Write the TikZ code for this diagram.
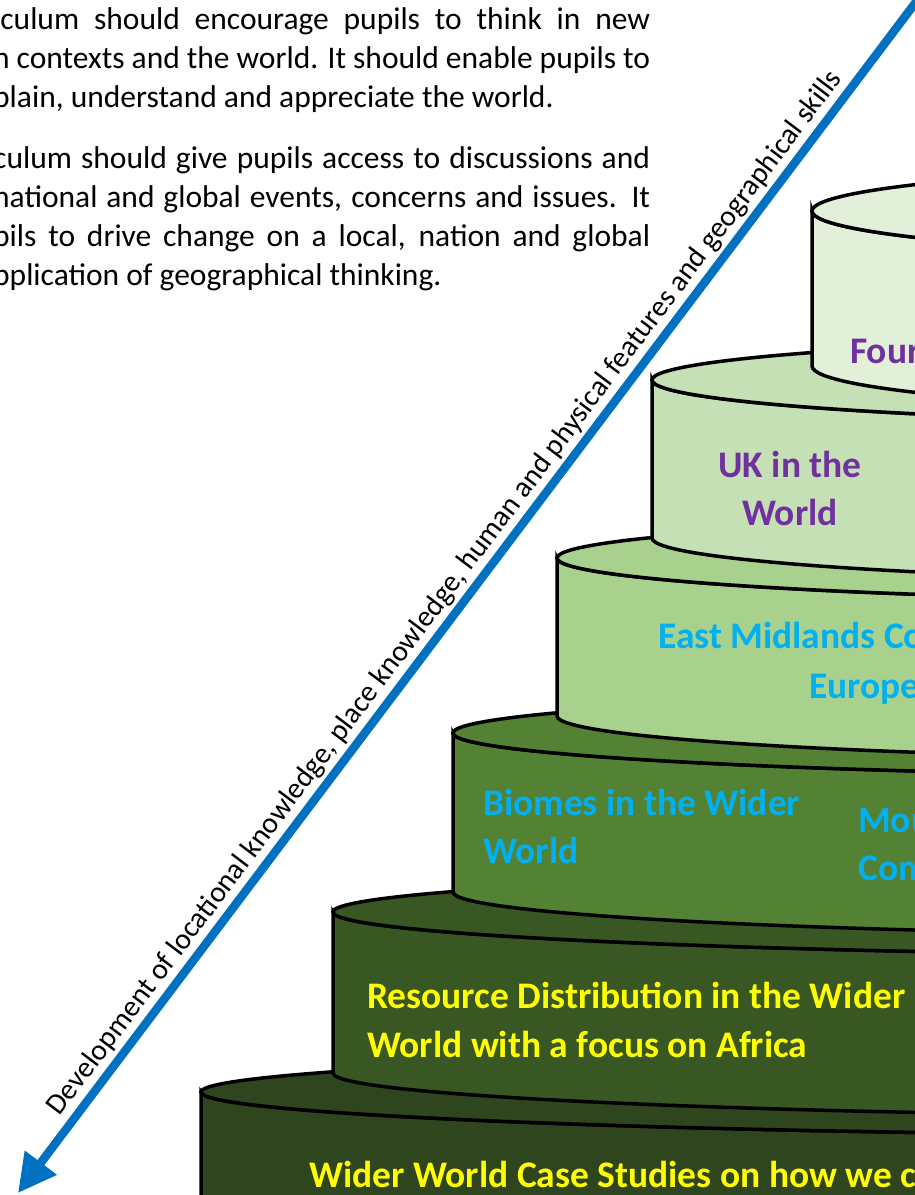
\documentclass[tikz,border=0pt]{standalone}
\usepackage{fontspec}
\setmainfont{Carlito}
\usetikzlibrary{arrows.meta}
\definecolor{tierone}{HTML}{E2F0D9}
\definecolor{tiertwo}{HTML}{C5E0B4}
\definecolor{tierthree}{HTML}{A9D18E}
\definecolor{tierfour}{HTML}{548235}
\definecolor{tierfive}{HTML}{385723}
\definecolor{tiersix}{HTML}{2F451E}
\definecolor{labpurple}{HTML}{7030A0}
\definecolor{labblue}{HTML}{00B0F0}
\definecolor{labyellow}{HTML}{FFFF00}
\definecolor{arrblue}{HTML}{0070C0}
\begin{document}
\begin{tikzpicture}[x=1pt,y=-1pt,
        tier/.style={draw=black,line width=3.5pt},
        body/.style={inner sep=0pt,anchor=base west,font=\fontsize{31.5}{39}\selectfont},
        lab/.style={inner sep=0pt,anchor=base west,font=\fontsize{37.5}{48}\selectfont\bfseries}]
    \useasboundingbox (0,0) rectangle (915,1195);
    \clip (0,0) rectangle (915,1195);
    % text at the top
    \node[body] (p1) at (-7,29) {\makebox[657pt][s]{iculum should encourage pupils to think in new}};
    \node[body] (p2) at (-7,68) {\makebox[657pt][s]{n contexts and the world. It should enable pupils to}};
    \node[body] (p3) at (-7,107) {plain, understand and appreciate the world.};
    \node[body] (p4) at (-7,168) {\makebox[657pt][s]{culum should give pupils access to discussions and}};
    \node[body] (p5) at (-7,207) {\makebox[657pt][s]{national and global events, concerns and issues. It}};
    \node[body] (p6) at (-7,246) {\makebox[657pt][s]{pils to drive change on a local, nation and global}};
    \node[body] (p7) at (-7,285) {pplication of geographical thinking.};
    % tiers, bottom one first
    \filldraw[tier,fill=tiersix] (201,1092) -- (201,1260) arc[start angle=180,end angle=0,x radius=1183,y radius=44] -- (2567,1092) arc[start angle=0,end angle=180,x radius=1183,y radius=44] -- cycle;
    \filldraw[tier,fill=tiersix] (1384,1092) ellipse[x radius=1183,y radius=44];
    \filldraw[tier,fill=tierfive] (333,912) -- (333,1073) arc[start angle=180,end angle=0,x radius=1051,y radius=44] -- (2435,912) arc[start angle=0,end angle=180,x radius=1051,y radius=44] -- cycle;
    \filldraw[tier,fill=tierfive] (1384,912) ellipse[x radius=1051,y radius=44];
    \filldraw[tier,fill=tierfour] (453,733) -- (453,892) arc[start angle=180,end angle=0,x radius=931,y radius=44] -- (2315,733) arc[start angle=0,end angle=180,x radius=931,y radius=44] -- cycle;
    \filldraw[tier,fill=tierfour] (1384,733) ellipse[x radius=931,y radius=44];
    \filldraw[tier,fill=tierthree] (557,558) -- (557,716) arc[start angle=180,end angle=0,x radius=827,y radius=44] -- (2211,558) arc[start angle=0,end angle=180,x radius=827,y radius=44] -- cycle;
    \filldraw[tier,fill=tierthree] (1384,558) ellipse[x radius=827,y radius=44];
    \filldraw[tier,fill=tiertwo] (652,380) -- (652,538) arc[start angle=180,end angle=0,x radius=732,y radius=44] -- (2116,380) arc[start angle=0,end angle=180,x radius=732,y radius=44] -- cycle;
    \filldraw[tier,fill=tiertwo] (1384,380) ellipse[x radius=732,y radius=44];
    \filldraw[tier,fill=tierone] (812,211) -- (812,366) arc[start angle=180,end angle=0,x radius=572,y radius=46] -- (1956,211) arc[start angle=0,end angle=180,x radius=572,y radius=46] -- cycle;
    \filldraw[tier,fill=tierone] (1384,211) ellipse[x radius=572,y radius=46];
    % tier labels
    \node[lab,text=labpurple] (four) at (850,363) {Four};
    \node[lab,text=labpurple,anchor=base] (uk) at (790,477) {UK in the};
    \node[lab,text=labpurple,anchor=base] (ukw) at (790,525) {World};
    \node[lab,text=labblue] (em) at (658,648) {East Midlands Co};
    \node[lab,text=labblue] (eu) at (809,698) {Europe};
    \node[lab,text=labblue] (bio) at (483,815) {Biomes in the Wider};
    \node[lab,text=labblue] (biow) at (483,863) {World};
    \node[lab,text=labblue] (mou) at (858,832) {Mou};
    \node[lab,text=labblue] (com) at (858,880) {Com};
    \node[lab,text=labyellow] (res) at (367,1008) {Resource Distribution in the Wider};
    \node[lab,text=labyellow] (resw) at (367,1057) {World with a focus on Africa};
    \node[lab,text=labyellow] (wid) at (309,1187) {Wider World Case Studies on how we c};
    % the arrow
    \coordinate (arrtip) at (18,1193);
    \coordinate (arrtop) at (922,-6);
    \draw[arrblue,line width=8.5pt,{Triangle[length=38pt,width=38pt]}-] (arrtip) -- node[sloped,above=3pt,pos=0.49,inner sep=0pt,text=black,font=\fontsize{29.5}{35}\selectfont] (devlab) {Development of locational knowledge, place knowledge, human and physical features and geographical skills} (arrtop);
\end{tikzpicture}
\end{document}
